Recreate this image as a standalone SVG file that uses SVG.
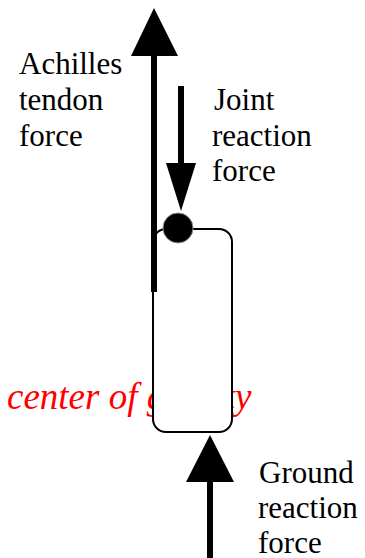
<svg xmlns="http://www.w3.org/2000/svg" width="365" height="558" viewBox="0 0 365 558">
<style>
.lbl{font-size:31px;fill:#000}
.cog{font-size:37px;font-style:italic;fill:#ff0000}
.shaft{stroke:#000;stroke-width:6;fill:none}
.head{fill:#000;stroke:none}
</style>
<rect width="365" height="558" fill="#fff"/>
<text class="cog" x="7" y="409" font-family="Liberation Serif">center of gravity</text>
<g id="body">
<rect x="153" y="229" width="79" height="203" rx="13" ry="13" fill="#fff" stroke="#000" stroke-width="2"/>
</g>
<g id="connectors">
<line class="shaft" x1="154" y1="50" x2="154" y2="292"/>
<polygon class="head" points="154,8 131,56 178,56"/>
<line class="shaft" x1="181" y1="86" x2="181" y2="166"/>
<polygon class="head" points="181,211 166,163 196,163"/>
<line class="shaft" x1="210" y1="478" x2="210" y2="558"/>
<polygon class="head" points="210,435 186,482 234,482"/>
</g>
<g id="joint">
<circle cx="178" cy="228" r="15" fill="#000" stroke="#888" stroke-width="1"/>
</g>
<g id="achilles-label">
<text class="lbl" x="19" y="74" font-family="Liberation Serif">Achilles</text>
<text class="lbl" x="19" y="110" font-family="Liberation Serif">tendon</text>
<text class="lbl" x="19" y="146" font-family="Liberation Serif">force</text>
</g>
<g id="joint-label">
<text class="lbl" x="214" y="110" font-family="Liberation Serif">Joint</text>
<text class="lbl" x="212" y="146" font-family="Liberation Serif">reaction</text>
<text class="lbl" x="212" y="181" font-family="Liberation Serif">force</text>
</g>
<g id="ground-label">
<text class="lbl" x="259" y="483" font-family="Liberation Serif">Ground</text>
<text class="lbl" x="258" y="518" font-family="Liberation Serif">reaction</text>
<text class="lbl" x="258" y="553" font-family="Liberation Serif">force</text>
</g>
</svg>
